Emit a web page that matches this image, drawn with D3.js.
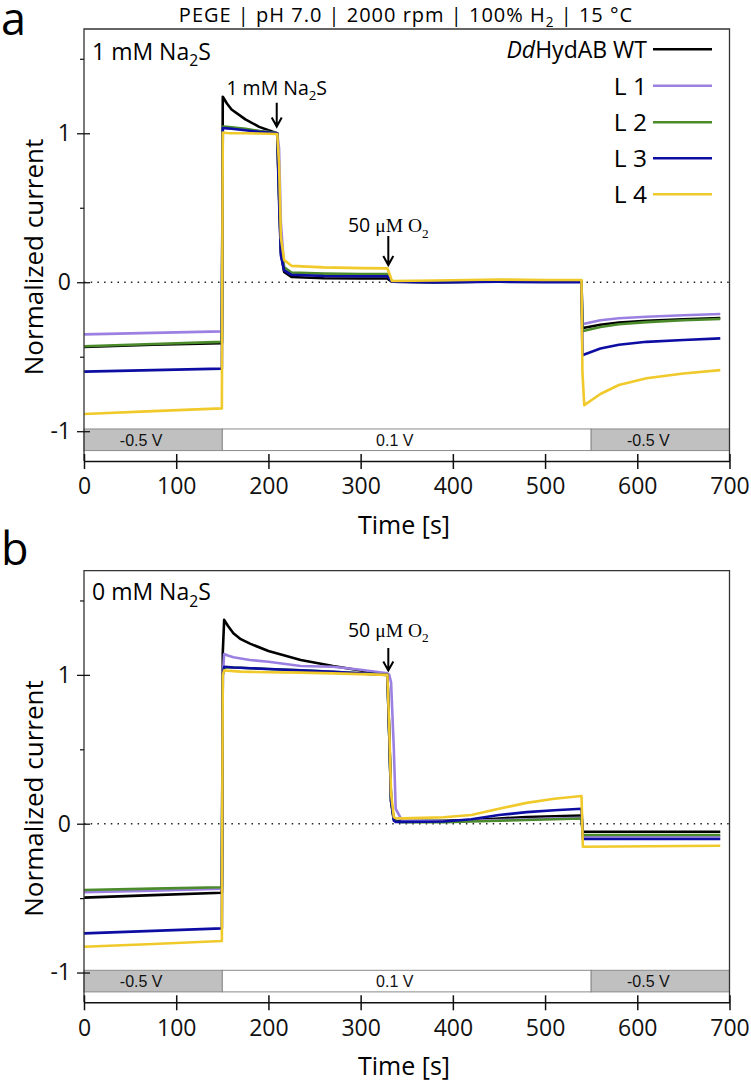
<!DOCTYPE html>
<html>
<head>
<meta charset="utf-8">
<script src="https://cdn.jsdelivr.net/npm/d3@7.9.0/dist/d3.min.js"></script>
<style>
  body { margin: 0; background: #fff; }
  svg { display: block; }
</style>
</head>
<body>
<div id="chart"></div>
<script>
// Series
const seriesNames = ['WT', 'L 1', 'L 2', 'L 3', 'L 4'];
const seriesColors = ['#000000', '#9b80e2', '#4b8b2b', '#0d0da3', '#f0c92a'];

// Panel a: 1 mM Na2S
const timeA = [0, 75, 149.5, 150.5, 155, 160, 175, 190, 200, 209.5, 211.5, 213.5, 217, 225, 260, 300, 329, 331, 334, 380, 450, 500, 539.5, 540.5, 542.5, 560, 580, 610, 650, 690];
const wtA = [-0.435, -0.42, -0.41, 1.245, 1.2, 1.16, 1.093, 1.043, 1.02, 1.0, 0.6, 0.2, 0.07, 0.035, 0.027, 0.025, 0.025, 0.015, 0.003, 0.0, 0.005, 0.003, 0.003, -0.3, -0.305, -0.285, -0.27, -0.258, -0.248, -0.24];
const l1A = [-0.35, -0.34, -0.33, 1.04, 1.038, 1.035, 1.025, 1.015, 1.008, 1.0, 0.9, 0.4, 0.1, 0.06, 0.05, 0.045, 0.045, 0.03, 0.005, 0.003, 0.008, 0.005, 0.005, -0.28, -0.278, -0.255, -0.242, -0.232, -0.222, -0.213];
const l2A = [-0.43, -0.415, -0.4, 1.045, 1.043, 1.04, 1.03, 1.015, 1.008, 1.0, 0.6, 0.22, 0.1, 0.065, 0.058, 0.055, 0.055, 0.035, 0.005, 0.0, 0.005, 0.005, 0.005, -0.33, -0.325, -0.3, -0.282, -0.268, -0.255, -0.247];
const l3A = [-0.6, -0.59, -0.58, 1.035, 1.033, 1.03, 1.02, 1.01, 1.005, 1.0, 0.55, 0.18, 0.08, 0.05, 0.042, 0.04, 0.04, 0.025, 0.003, -0.002, 0.003, 0.0, 0.0, -0.49, -0.485, -0.445, -0.42, -0.4, -0.388, -0.377];
const l4A = [-0.885, -0.865, -0.847, 1.005, 1.002, 1.0, 1.0, 0.998, 0.997, 0.995, 0.8, 0.3, 0.15, 0.11, 0.1, 0.095, 0.093, 0.06, 0.008, 0.012, 0.018, 0.015, 0.015, -0.6, -0.825, -0.75, -0.69, -0.645, -0.613, -0.59];

// Panel b: 0 mM Na2S
const timeB = [0, 75, 149.5, 150.5, 152, 156, 162, 170, 180, 200, 235, 270, 300, 329, 331, 333, 336, 338, 345, 390, 420, 450, 480, 510, 539.5, 541, 690];
const wtB = [-0.497, -0.48, -0.464, 1.15, 1.37, 1.33, 1.28, 1.24, 1.21, 1.16, 1.1, 1.06, 1.03, 1.0, 0.6, 0.15, 0.03, 0.02, 0.018, 0.02, 0.025, 0.035, 0.045, 0.05, 0.055, -0.054, -0.054];
const l1B = [-0.46, -0.45, -0.437, 1.0, 1.14, 1.13, 1.118, 1.11, 1.1, 1.088, 1.06, 1.055, 1.035, 1.01, 1.0, 0.95, 0.5, 0.1, 0.02, 0.015, 0.02, 0.025, 0.03, 0.035, 0.04, -0.085, -0.085];
const l2B = [-0.445, -0.436, -0.427, 1.0, 1.05, 1.05, 1.05, 1.048, 1.045, 1.04, 1.03, 1.02, 1.01, 1.0, 0.6, 0.15, 0.03, 0.015, 0.01, 0.01, 0.015, 0.02, 0.025, 0.03, 0.035, -0.076, -0.076];
const l3B = [-0.737, -0.72, -0.703, 1.0, 1.055, 1.053, 1.05, 1.048, 1.045, 1.04, 1.03, 1.02, 1.01, 1.0, 0.6, 0.15, 0.02, 0.012, 0.012, 0.015, 0.03, 0.058, 0.078, 0.09, 0.1, -0.103, -0.103];
const l4B = [-0.827, -0.808, -0.788, 1.0, 1.03, 1.028, 1.025, 1.022, 1.02, 1.018, 1.015, 1.01, 1.005, 1.0, 0.65, 0.2, 0.045, 0.038, 0.036, 0.043, 0.058, 0.1, 0.14, 0.168, 0.186, -0.155, -0.148];

// Potential steps
const stepStarts = [0, 150, 550];
const stepEnds = [150, 550, 700];
const stepLabels = ['-0.5 V', '0.1 V', '-0.5 V'];

// Axes
const xTicks = [0, 100, 200, 300, 400, 500, 600, 700];
const yTicks = [-1, 0, 1];
const yMinorTicks = [-0.5, 0.5, 1.5];

const width = 751;
const height = 1084;
const sans = "'Open Sans', 'Noto Sans', sans-serif";
const arial = "'Liberation Sans', Arial, sans-serif";
const serif = "'Liberation Serif', 'Times New Roman', serif";

const svg = d3.select('#chart')
  .append('svg')
  .attr('width', width)
  .attr('height', height);

// text with sub-scripts, parts = [{text, sub, family, italic}]
function rich(sel, parts, size) {
  let shift = 0;
  parts.forEach((p) => {
    const target = p.sub ? size * 0.27 : 0;
    const t = sel.append('tspan').attr('dy', target - shift).text(p.text);
    if (p.sub) t.attr('font-size', size * 0.68);
    if (p.family) t.attr('font-family', p.family);
    if (p.italic) t.attr('font-style', 'italic');
    shift = target;
  });
}

// Title
rich(
  svg.append('text')
    .attr('x', 406)
    .attr('y', 22)
    .attr('text-anchor', 'middle')
    .attr('font-family', sans)
    .attr('font-size', 20)
    .attr('letter-spacing', 1),
  [
    { text: 'PEGE | pH 7.0 | 2000 rpm | 100% H' },
    { text: '2', sub: true },
    { text: ' | 15 °C' },
  ],
  20,
);

function drawPanel(cfg) {
  const x = d3.scaleLinear().domain([0, 700]).range([84, 729.5]);
  const y = d3.scaleLinear().domain([-1.2, 1.7]).range([cfg.bottom, cfg.top]);
  const g = svg.append('g');

  // panel letter
  g.append('text')
    .attr('x', 1)
    .attr('y', cfg.letterY)
    .attr('font-family', sans)
    .attr('font-size', 45)
    .text(cfg.letter);

  // zero line
  g.append('line')
    .attr('x1', x(0))
    .attr('x2', x(700))
    .attr('y1', y(0))
    .attr('y2', y(0))
    .attr('stroke', '#222')
    .attr('stroke-width', 1.5)
    .attr('stroke-dasharray', '1.5,5.2');

  // potential bar
  const steps = stepStarts.map((s, i) => ({ s, e: stepEnds[i], label: stepLabels[i] }));
  g.selectAll('rect.step')
    .data(steps)
    .enter()
    .append('rect')
    .attr('class', 'step')
    .attr('x', (d) => x(d.s))
    .attr('y', y(-0.985))
    .attr('width', (d) => x(d.e) - x(d.s))
    .attr('height', y(-1.13) - y(-0.985))
    .attr('fill', (d) => (d.label.startsWith('-') ? '#c0c0c0' : '#ffffff'))
    .attr('stroke', '#8a8a8a')
    .attr('stroke-width', 1);

  g.selectAll('text.step')
    .data(steps)
    .enter()
    .append('text')
    .attr('class', 'step')
    .attr('x', (d) => (x(d.s) + x(d.e)) / 2 - 12)
    .attr('y', (y(-0.985) + y(-1.13)) / 2)
    .attr('dy', '0.36em')
    .attr('text-anchor', 'middle')
    .attr('font-family', arial)
    .attr('font-size', 16)
    .attr('fill', '#111')
    .text((d) => d.label);

  // traces
  const line = d3.line()
    .x((d) => x(d[0]))
    .y((d) => y(d[1]));

  cfg.values.forEach((vals, i) => {
    const pts = cfg.times.map((t, j) => [t, vals[j]]);
    g.append('path')
      .datum(pts)
      .attr('fill', 'none')
      .attr('stroke', seriesColors[i])
      .attr('stroke-width', 2.6)
      .attr('stroke-linejoin', 'round')
      .attr('d', line);
  });

  // frame
  g.append('path')
    .attr('d', `M${x(0)},${cfg.bottom}V${cfg.top}H${x(700)}V${cfg.bottom}`)
    .attr('fill', 'none')
    .attr('stroke', '#333')
    .attr('stroke-width', 1.3);

  // x axis
  const xg = g.append('g')
    .attr('transform', `translate(0,${cfg.bottom})`)
    .call(d3.axisBottom(x).tickValues(xTicks).tickSize(8).tickSizeOuter(0).tickPadding(9));
  xg.selectAll('.tick line').attr('y1', -7);
  xg.selectAll('line, path').attr('stroke', '#111').attr('stroke-width', 1.5);
  xg.selectAll('text')
    .attr('font-family', sans)
    .attr('font-size', 23)
    .attr('fill', '#111');

  // y axis
  const yg = g.append('g')
    .attr('transform', `translate(${x(0)},0)`)
    .call(d3.axisLeft(y).tickValues(yTicks).tickSize(7).tickPadding(6).tickFormat(d3.format('d')));
  yg.select('.domain').remove();
  yg.selectAll('.tick line').attr('x1', 6).attr('stroke', '#111').attr('stroke-width', 1.3);
  yg.selectAll('text')
    .attr('font-family', sans)
    .attr('font-size', 23)
    .attr('fill', '#111')
    .text((d) => (d < 0 ? '-' + Math.abs(d) : d));

  const ym = g.append('g')
    .attr('transform', `translate(${x(0)},0)`)
    .call(d3.axisLeft(y).tickValues(yMinorTicks).tickSize(4).tickFormat(''));
  ym.select('.domain').remove();
  ym.selectAll('.tick line').attr('stroke', '#111').attr('stroke-width', 1.2);

  // axis titles
  g.append('text')
    .attr('x', 404)
    .attr('y', cfg.bottom + 73)
    .attr('text-anchor', 'middle')
    .attr('font-family', sans)
    .attr('font-size', 25)
    .text('Time [s]');

  g.append('text')
    .attr('transform', `translate(43,${(cfg.top + cfg.bottom) / 2 + 12}) rotate(-90)`)
    .attr('text-anchor', 'middle')
    .attr('font-family', sans)
    .attr('font-size', 26)
    .text('Normalized current');

  // condition label
  rich(
    g.append('text')
      .attr('x', 92)
      .attr('y', y(cfg.condV))
      .attr('font-family', sans)
      .attr('font-size', 23),
    cfg.condition,
    23,
  );

  // additions with arrows
  cfg.notes.forEach((n) => {
    const ax = x(n.t);
    rich(
      g.append('text')
        .attr('x', ax)
        .attr('y', y(n.vText))
        .attr('text-anchor', 'middle')
        .attr('font-family', sans)
        .attr('font-size', 19.5),
      n.parts,
      19.5,
    );
    const tip = y(n.vTip);
    g.append('path')
      .attr('d', `M${ax},${y(n.vTop)}V${tip}M${ax - 5},${tip - 9}L${ax},${tip}L${ax + 5},${tip - 9}`)
      .attr('fill', 'none')
      .attr('stroke', '#000')
      .attr('stroke-width', 2);
  });

  // legend
  if (cfg.legend) {
    const legendY = [49.3, 85.7, 122.3, 158.3, 194.3];
    seriesNames.forEach((name, i) => {
      g.append('line')
        .attr('x1', 653)
        .attr('x2', 712)
        .attr('y1', legendY[i])
        .attr('y2', legendY[i])
        .attr('stroke', seriesColors[i])
        .attr('stroke-width', 2.6);
      const t = g.append('text')
        .attr('x', 647)
        .attr('y', legendY[i] + 9)
        .attr('text-anchor', 'end')
        .attr('font-family', sans)
        .attr('font-size', name === 'WT' ? 23 : 24.5);
      if (name === 'WT') {
        rich(t, [{ text: 'Dd', italic: true }, { text: 'HydAB WT' }], 23);
      } else {
        t.text(name);
      }
    });
  }
}

const o2Parts = [
  { text: '50 ' },
  { text: 'μM O', family: serif },
  { text: '2', sub: true, family: serif },
];

drawPanel({
  letter: 'a',
  letterY: 35,
  top: 29,
  bottom: 461,
  times: timeA,
  values: [wtA, l1A, l2A, l3A, l4A],
  condition: [{ text: '1 mM Na' }, { text: '2', sub: true }, { text: 'S' }],
  condV: 1.495,
  legend: true,
  notes: [
    {
      t: 209,
      vText: 1.257,
      vTop: 1.205,
      vTip: 1.045,
      parts: [{ text: '1 mM Na' }, { text: '2', sub: true }, { text: 'S' }],
    },
    { t: 330, vText: 0.334, vTop: 0.31, vTip: 0.115, parts: o2Parts },
  ],
});

drawPanel({
  letter: 'b',
  letterY: 565,
  top: 570.7,
  bottom: 1002.3,
  times: timeB,
  values: [wtB, l1B, l2B, l3B, l4B],
  condition: [{ text: '0 mM Na' }, { text: '2', sub: true }, { text: 'S' }],
  condV: 1.5,
  legend: false,
  notes: [
    { t: 330, vText: 1.255, vTop: 1.18, vTip: 1.03, parts: o2Parts },
  ],
});
</script>
</body>
</html>
